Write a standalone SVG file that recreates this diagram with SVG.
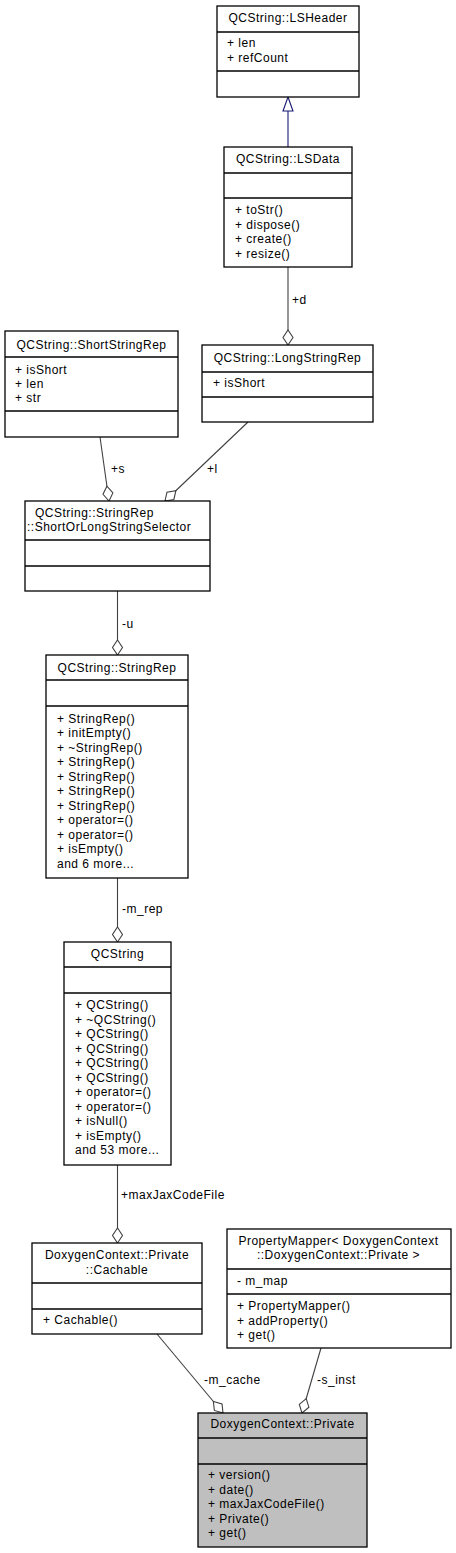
<svg xmlns="http://www.w3.org/2000/svg" width="456" height="1553" viewBox="0 0 456 1553">
<style>
text{font-family:"Liberation Sans",Arial,sans-serif;font-size:12px;letter-spacing:0.5px;fill:#000}
.c{text-anchor:middle}
.box{fill:#fff;stroke:#000;stroke-width:1.3}
.hl{fill:#bfbfbf}
.div{stroke:#000;stroke-width:1.3}
.agg{fill:none;stroke:#404040;stroke-width:1.1;marker-end:url(#dia)}
.inh{fill:none;stroke:#191970;stroke-width:1.1}
</style>
<defs>
<marker id="dia" markerUnits="userSpaceOnUse" markerWidth="20" markerHeight="14" refX="16" refY="6" orient="auto" viewBox="0 0 20 12">
<path d="M16,6 L8.5,1 L1,6 L8.5,11 Z" fill="#fff" stroke="#404040" stroke-width="1.1"/>
</marker>
</defs>
<g id="connectors">
<path class="inh" d="M288,147 L288,111"/>
<path d="M288,97 L283,111 L293,111 Z" fill="#fff" stroke="#191970" stroke-width="1.1"/>
<path class="agg" d="M288,267 L288,345"/>
<text x="292" y="303.5">+d</text>
<path class="agg" d="M100,437 L109,501"/>
<text x="111" y="472.5">+s</text>
<path class="agg" d="M248,422 L165,501"/>
<text x="207" y="472.5">+l</text>
<path class="agg" d="M117.5,591 L117.5,655"/>
<text x="122" y="627.5">-u</text>
<path class="agg" d="M117.5,878 L117.5,942"/>
<text x="122" y="913">-m_rep</text>
<path class="agg" d="M117.5,1165 L117.5,1243"/>
<text x="121" y="1199">+maxJaxCodeFile</text>
<path class="agg" d="M157,1334 L223,1413"/>
<text x="204" y="1383.5">-m_cache</text>
<path class="agg" d="M321,1348 L302,1413"/>
<text x="317" y="1383.5">-s_inst</text>
</g>
<g id="LSHeader">
<rect class="box" x="217" y="6" width="142" height="91"/>
<line class="div" x1="217" y1="32" x2="359" y2="32"/>
<line class="div" x1="217" y1="71" x2="359" y2="71"/>
<text class="c" x="288" y="22">QCString::LSHeader</text>
<text x="227" y="47">+ len</text>
<text x="227" y="61.5">+ refCount</text>
</g>
<g id="LSData">
<rect class="box" x="224" y="147" width="128" height="120"/>
<line class="div" x1="224" y1="173" x2="352" y2="173"/>
<line class="div" x1="224" y1="198" x2="352" y2="198"/>
<text class="c" x="288" y="162.5">QCString::LSData</text>
<text x="235" y="214">+ toStr()</text>
<text x="235" y="228.5">+ dispose()</text>
<text x="235" y="243">+ create()</text>
<text x="235" y="257.5">+ resize()</text>
</g>
<g id="ShortStringRep">
<rect class="box" x="5" y="331" width="173" height="106"/>
<line class="div" x1="5" y1="357" x2="178" y2="357"/>
<line class="div" x1="5" y1="411" x2="178" y2="411"/>
<text class="c" x="91.5" y="349">QCString::ShortStringRep</text>
<text x="15" y="373.5">+ isShort</text>
<text x="15" y="387.5">+ len</text>
<text x="15" y="402">+ str</text>
</g>
<g id="LongStringRep">
<rect class="box" x="202" y="345" width="171" height="77"/>
<line class="div" x1="202" y1="372" x2="373" y2="372"/>
<line class="div" x1="202" y1="397" x2="373" y2="397"/>
<text class="c" x="287.5" y="362">QCString::LongStringRep</text>
<text x="213" y="386.5">+ isShort</text>
</g>
<g id="Selector">
<rect class="box" x="25" y="501" width="185" height="90"/>
<line class="div" x1="25" y1="540" x2="210" y2="540"/>
<line class="div" x1="25" y1="566" x2="210" y2="566"/>
<text x="35" y="517">QCString::StringRep</text>
<text x="27" y="531">::ShortOrLongStringSelector</text>
</g>
<g id="StringRep">
<rect class="box" x="46" y="655" width="142" height="223"/>
<line class="div" x1="46" y1="680" x2="188" y2="680"/>
<line class="div" x1="46" y1="706" x2="188" y2="706"/>
<text class="c" x="117" y="672">QCString::StringRep</text>
<text x="57" y="722.5">+ StringRep()</text>
<text x="57" y="737">+ initEmpty()</text>
<text x="57" y="751.5">+ ~StringRep()</text>
<text x="57" y="766">+ StringRep()</text>
<text x="57" y="780.5">+ StringRep()</text>
<text x="57" y="795">+ StringRep()</text>
<text x="57" y="809.5">+ StringRep()</text>
<text x="57" y="824">+ operator=()</text>
<text x="57" y="838.5">+ operator=()</text>
<text x="57" y="853">+ isEmpty()</text>
<text x="57" y="867.5">and 6 more...</text>
</g>
<g id="QCString">
<rect class="box" x="64" y="942" width="107" height="223"/>
<line class="div" x1="64" y1="967" x2="171" y2="967"/>
<line class="div" x1="64" y1="993" x2="171" y2="993"/>
<text class="c" x="117.5" y="957.5">QCString</text>
<text x="75" y="1009">+ QCString()</text>
<text x="75" y="1023.5">+ ~QCString()</text>
<text x="75" y="1038">+ QCString()</text>
<text x="75" y="1052.5">+ QCString()</text>
<text x="75" y="1067">+ QCString()</text>
<text x="75" y="1081.5">+ QCString()</text>
<text x="75" y="1096">+ operator=()</text>
<text x="75" y="1110.5">+ operator=()</text>
<text x="75" y="1125">+ isNull()</text>
<text x="75" y="1139.5">+ isEmpty()</text>
<text x="75" y="1154">and 53 more...</text>
</g>
<g id="Cachable">
<rect class="box" x="32" y="1243" width="170" height="91"/>
<line class="div" x1="32" y1="1283" x2="202" y2="1283"/>
<line class="div" x1="32" y1="1309" x2="202" y2="1309"/>
<text class="c" x="117" y="1258.5">DoxygenContext::Private</text>
<text class="c" x="117" y="1273.5">::Cachable</text>
<text x="43" y="1324">+ Cachable()</text>
</g>
<g id="PropertyMapper">
<rect class="box" x="227" y="1229" width="224" height="119"/>
<line class="div" x1="227" y1="1269" x2="451" y2="1269"/>
<line class="div" x1="227" y1="1294" x2="451" y2="1294"/>
<text class="c" x="338.5" y="1245">PropertyMapper&lt; DoxygenContext</text>
<text class="c" x="338.5" y="1258.5">::DoxygenContext::Private &gt;</text>
<text x="237" y="1285">- m_map</text>
<text x="237" y="1310">+ PropertyMapper()</text>
<text x="237" y="1324.5">+ addProperty()</text>
<text x="237" y="1339">+ get()</text>
</g>
<g id="Private">
<rect class="box hl" x="198" y="1413" width="169" height="134"/>
<line class="div" x1="198" y1="1438" x2="367" y2="1438"/>
<line class="div" x1="198" y1="1464" x2="367" y2="1464"/>
<text class="c" x="282.5" y="1428">DoxygenContext::Private</text>
<text x="208" y="1479">+ version()</text>
<text x="208" y="1493.5">+ date()</text>
<text x="208" y="1508">+ maxJaxCodeFile()</text>
<text x="208" y="1522.5">+ Private()</text>
<text x="208" y="1537">+ get()</text>
</g>
</svg>
